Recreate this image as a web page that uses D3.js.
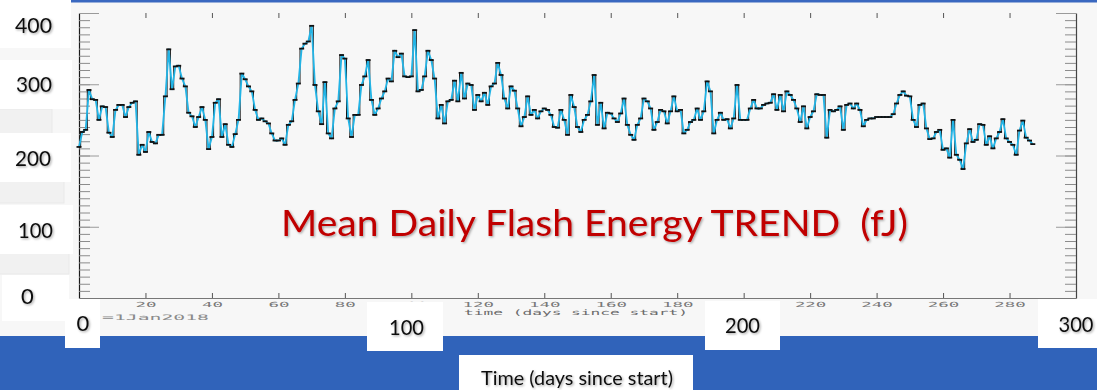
<!DOCTYPE html>
<html>
<head>
<meta charset="utf-8">
<script src="https://cdn.jsdelivr.net/npm/d3@7"></script>
<style>
  html, body { margin: 0; padding: 0; background: #f7f7f7; }
  svg { display: block; }
</style>
</head>
<body>
<svg id="chart" width="1097" height="390"></svg>
<script>
// ---------------- data ----------------
// mean daily flash energy (fJ), one value per day since start (day 0 = 1 Jan 2018)
const energy = [
  212,233,236,292,279,278,250,269,268,232, 226,264,271,271,254,268,274,276,201,215,
  205,233,219,217,229,229,283,349,293,325, 326,308,297,260,255,240,254,268,250,209,
  226,274,279,226,244,215,212,230,250,315, 307,297,290,264,250,252,248,245,231,221,
  221,224,215,243,248,278,301,350,357,360, 382,299,262,244,303,231,224,266,276,341,
  336,252,226,257,257,299,311,334,278,257, 266,280,290,308,304,347,338,343,311,310,
  311,376,290,292,311,347,334,308,252,271, 245,276,278,305,276,316,280,301,299,264,
  285,276,288,271,297,301,330,313,280,266, 297,291,266,241,254,283,257,264,252,262,
  266,264,257,240,239,264,250,229,285,268, 240,233,250,257,276,313,243,274,238,260,
  259,252,247,259,280,243,229,222,243,252, 280,276,266,236,247,264,262,245,262,283,
  262,264,231,236,247,250,266,250,262,304, 290,231,250,260,250,251,238,252,299,250,
  250,250,266,278,266,266,271,273,274,286, 264,285,262,290,285,278,266,247,269,238,
  254,262,286,285,285,225,264,262,264,269, 236,271,273,266,273,264,241,250,252,252,
  254,254,254,254,254,258,273,285,290,284, 283,250,240,271,273,238,223,224,233,236,
  208,210,197,250,201,194,181,217,237,219, 222,244,243,215,227,210,224,233,251,224,
  219,215,201,235,249,225,221,216
];
const xMajorTicks = [20,40,60,80,100,120,140,160,180,200,220,240,260,280];
const yMajorTicks = [0,100,200,300,400];
const yTickLabels = ["400","300","200","100","0"];
const xTickLabels = ["0","100","200","300"];
const titleText = "Mean Daily Flash Energy TREND  (fJ)";
const xTitle = "Time (days since start)";
const innerXTitle = "time (days since start)";
const dateNote = "=1Jan2018";

// ---------------- layout ----------------
const svg = d3.select("#chart");
const W = 1097, H = 390;
const x = d3.scaleLinear().domain([0, 300]).range([79, 1076]);
const y = d3.scaleLinear().domain([0, 400]).range([298, 13]);

const defs = svg.append("defs");
const f = defs.append("filter").attr("id", "shadow").attr("x", "-10%").attr("y", "-20%").attr("width", "130%").attr("height", "150%");
f.append("feDropShadow").attr("dx", 1.2).attr("dy", 1.2).attr("stdDeviation", 0.8)
  .attr("flood-color", "#000").attr("flood-opacity", 0.35);

// background
svg.append("rect").attr("x", 0).attr("y", 0).attr("width", W).attr("height", H).attr("fill", "#f7f7f7");
// top blue line
svg.append("rect").attr("x", 71).attr("y", 0).attr("width", W - 71).attr("height", 2.5).attr("fill", "#3a68c0");

// ---------------- axes ----------------
const minorY = d3.range(0, 401, 10);
const greyTick = "#8c8c8c";

// left axis
const gl = svg.append("g").attr("transform", `translate(${x(0)},0)`);
gl.call(d3.axisLeft(y).tickValues(minorY).tickSizeInner(-11).tickSizeOuter(0).tickFormat(""));
gl.selectAll(".tick line").attr("stroke", greyTick);
gl.select(".domain").attr("stroke", "#1a1a1a").attr("stroke-width", 1.2);
const glm = svg.append("g").attr("transform", `translate(${x(0)},0)`);
glm.call(d3.axisLeft(y).tickValues(yMajorTicks).tickSizeInner(-20).tickSizeOuter(0).tickFormat(""));
glm.selectAll(".tick line").attr("stroke", "#9a9a9a");
glm.select(".domain").remove();

// right axis
const gr = svg.append("g").attr("transform", `translate(${x(300)},0)`);
gr.call(d3.axisRight(y).tickValues(minorY).tickSizeInner(-11).tickSizeOuter(0).tickFormat(""));
gr.selectAll(".tick line").attr("stroke", greyTick);
gr.select(".domain").attr("stroke", "#444").attr("stroke-width", 1.2);
const grm = svg.append("g").attr("transform", `translate(${x(300)},0)`);
grm.call(d3.axisRight(y).tickValues(yMajorTicks).tickSizeInner(-20).tickSizeOuter(0).tickFormat(""));
grm.selectAll(".tick line").attr("stroke", "#9a9a9a");
grm.select(".domain").remove();

// top axis (ticks only)
const gt = svg.append("g").attr("transform", `translate(0,${y(400)})`);
gt.call(d3.axisTop(x).tickValues(xMajorTicks).tickSizeInner(-5).tickSizeOuter(0).tickFormat(""));
gt.selectAll(".tick line").attr("stroke", "#555");
gt.select(".domain").remove();

// bottom axis
const gb = svg.append("g").attr("transform", `translate(0,${y(0)})`);
gb.call(d3.axisBottom(x).tickValues(xMajorTicks).tickSizeInner(-5).tickSizeOuter(0).tickPadding(4));
gb.selectAll(".tick line").attr("stroke", "#555");
gb.select(".domain").attr("stroke", "#777").attr("stroke-width", 1.2);
gb.selectAll(".tick text")
  .attr("font-family", "'DejaVu Sans Mono', monospace")
  .attr("font-size", 7)
  .attr("fill", "#7a7a7a")
  .attr("y", 4)
  .attr("dy", "0.71em")
  .attr("textLength", d => String(d).length * 10.5)
  .attr("lengthAdjust", "spacingAndGlyphs");

// inner IDL-style titles
svg.append("text").attr("x", 576).attr("y", 314.5).attr("text-anchor", "middle")
  .attr("font-family", "'DejaVu Sans Mono', monospace").attr("font-size", 7.5).attr("fill", "#6a6a6a")
  .attr("textLength", 224).attr("lengthAdjust", "spacingAndGlyphs")
  .text(innerXTitle);
svg.append("text").attr("x", 102).attr("y", 320).attr("text-anchor", "start")
  .attr("font-family", "'DejaVu Sans Mono', monospace").attr("font-size", 7.5).attr("fill", "#8a8a8a")
  .attr("textLength", 107).attr("lengthAdjust", "spacingAndGlyphs")
  .text(dateNote);

// ---------------- series ----------------
const pts = energy.map((v, i) => [i, v]);
const stepLine = d3.line().x(d => x(d[0])).y(d => y(d[1])).curve(d3.curveStep);
const plainLine = d3.line().x(d => x(d[0])).y(d => y(d[1]));

svg.append("path").attr("d", stepLine(pts)).attr("fill", "none")
  .attr("stroke", "#111").attr("stroke-width", 1);
svg.append("path").attr("d", plainLine(pts)).attr("fill", "none")
  .attr("stroke", "#22b4e6").attr("stroke-width", 1.8).attr("stroke-linejoin", "round");
svg.append("g").selectAll("line").data(pts).join("line")
  .attr("x1", d => x(d[0]) - 2.5).attr("x2", d => x(d[0]) + 2.5)
  .attr("y1", d => y(d[1])).attr("y2", d => y(d[1]))
  .attr("stroke", "#111").attr("stroke-width", 1.8);

// ---------------- slide overlays ----------------
// bottom blue band
svg.append("rect").attr("x", 0).attr("y", 336).attr("width", W).attr("height", H - 336).attr("fill", "#3063ba");

// faint grey boxes in left column
[[109, 52, 26], [178, 64, 25], [248, 69, 26]].forEach(([yy, w, h]) => {
  svg.append("rect").attr("x", -1).attr("y", yy).attr("width", w + 1).attr("height", h)
    .attr("fill", "#f1f1f1").attr("stroke", "#e9e9e9");
});

const numFont = "Lato, 'Open Sans', sans-serif";
function box(bx, by, bw, bh) {
  svg.append("rect").attr("x", bx).attr("y", by).attr("width", bw).attr("height", bh).attr("fill", "#ffffff");
}
function label(txt, cx, base, size, len) {
  const t = svg.append("text").attr("x", cx).attr("y", base).attr("text-anchor", "middle")
    .attr("font-family", numFont).attr("font-size", size).attr("fill", "#111")
    .attr("filter", "url(#shadow)").text(txt);
  if (len) t.attr("textLength", len).attr("lengthAdjust", "spacingAndGlyphs");
}

// left y labels
box(0, 0, 71, 48);   label(yTickLabels[0], 33.5, 33, 22, 37);
box(0, 60, 72, 49);  label(yTickLabels[1], 34, 92, 22, 36);
box(0, 133, 71, 49); label(yTickLabels[2], 33, 166, 22, 36);
box(0, 205, 73, 49); label(yTickLabels[3], 35.5, 238, 22, 35);
box(2, 275, 67, 46); label(yTickLabels[4], 27.5, 304, 22);

// bottom x labels
box(65, 299, 35, 49);    label(xTickLabels[0], 83, 331, 22);
box(367, 302, 76, 49);   label(xTickLabels[1], 406.5, 335, 22, 35);
box(705, 301, 75, 49);   label(xTickLabels[2], 742.5, 333, 22, 35);
box(1038, 299, 59, 49);  label(xTickLabels[3], 1076, 332, 22, 35);

// x title box
box(459, 355, 234, 35);
label(xTitle, 577, 385, 19.5, 192);

// main red title
svg.append("text").attr("x", 281).attr("y", 236).attr("text-anchor", "start")
  .attr("font-family", numFont).attr("font-size", 37).attr("fill", "#c00000")
  .attr("filter", "url(#shadow)")
  .style("white-space", "pre")
  .attr("textLength", 627).attr("lengthAdjust", "spacingAndGlyphs")
  .text(titleText);
</script>
</body>
</html>
